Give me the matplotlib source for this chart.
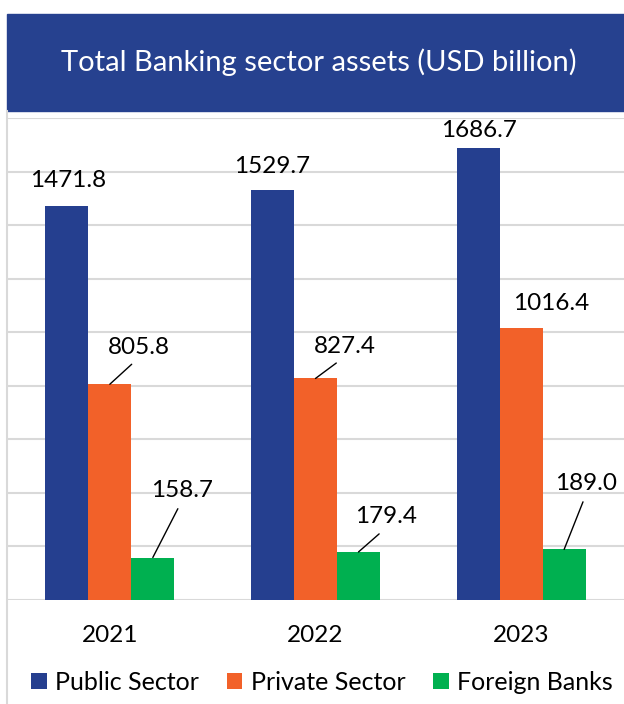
import matplotlib
matplotlib.use('Agg')
import matplotlib.pyplot as plt
from matplotlib.patches import Rectangle
from matplotlib.lines import Line2D
import numpy as np

plt.rcParams['font.family'] = ['Lato', 'DejaVu Sans']

# data
years = ['2021', '2022', '2023']
series_names = ['Public Sector', 'Private Sector', 'Foreign Banks']
public_sector = [1471.8, 1529.7, 1686.7]
private_sector = [805.8, 827.4, 1016.4]
foreign_banks = [158.7, 179.4, 189.0]

colors = ['#253F8F', '#F26129', '#00B050']
BANNER = '#26418F'
GRID = '#D9D9D9'

# label offsets in pixels (dx, dy) from bar top, and whether a leader line is drawn
label_style = {
    'Public Sector': [((1, 25), False), ((0, 24), False), ((1, 18), False)],
    'Private Sector': [((29, 37), True), ((29, 32), True), ((30, 24), False)],
    'Foreign Banks': [((29, 67), True), ((28, 35), True), ((22, 66), True)],
}

W, H = 624, 704
fig = plt.figure(figsize=(W / 100, H / 100), dpi=100)

# title banner
fig.patches.append(Rectangle((7 / W, 1 - 111 / H), 1 - 7 / W, 97 / H,
                             transform=fig.transFigure, color=BANNER, zorder=0))
fig.text(319 / W, 1 - 62 / H, 'Total Banking sector assets (USD billion)',
         color='white', fontsize=21, ha='center', va='center')

# left frame line
fig.lines.append(Line2D([7 / W, 7 / W], [0, 1 - 111 / H], transform=fig.transFigure,
                        color=GRID, linewidth=1.5))

ax = fig.add_axes([7 / W, 1 - 600 / H, 1 - 7 / W, (600 - 118) / H])
x = np.arange(len(years))
bw = 0.209
all_series = [public_sector, private_sector, foreign_banks]
for i, (name, vals) in enumerate(zip(series_names, all_series)):
    pos = x + (i - 1) * bw
    ax.bar(pos, vals, width=bw, color=colors[i], label=name, zorder=3)
    for j, (px, v) in enumerate(zip(pos, vals)):
        (dx, dy), line = label_style[name][j]
        arrow = dict(arrowstyle='-', color='black', lw=1, shrinkA=4, shrinkB=0,
                     relpos=(0.5, 0)) if line else None
        ax.annotate(f'{v:.1f}', xy=(px, v), xytext=(dx, dy), textcoords='offset pixels',
                    ha='center', va='center', fontsize=17.5, color='black',
                    arrowprops=arrow, zorder=4)

ax.set_xlim(-0.5, 2.5)
ax.set_ylim(0, 1800)
ax.set_yticks(np.arange(0, 1801, 200))
ax.set_yticklabels([])
ax.tick_params(axis='y', length=0)
ax.set_xticks(x)
ax.set_xticklabels(years, fontsize=17.5)
ax.tick_params(axis='x', length=0, pad=18)
ax.grid(axis='y', color=GRID, linewidth=1.5, zorder=0)
for s in ax.spines.values():
    s.set_visible(False)
ax.set_axisbelow(True)

fig.legend(loc='center', bbox_to_anchor=(322 / W, 1 - 682 / H), ncol=3, frameon=False,
           fontsize=18, handlelength=0.62, handleheight=0.62, handletextpad=0.35,
           columnspacing=1.1, borderaxespad=0)

fig.savefig('out.png', dpi=100)
